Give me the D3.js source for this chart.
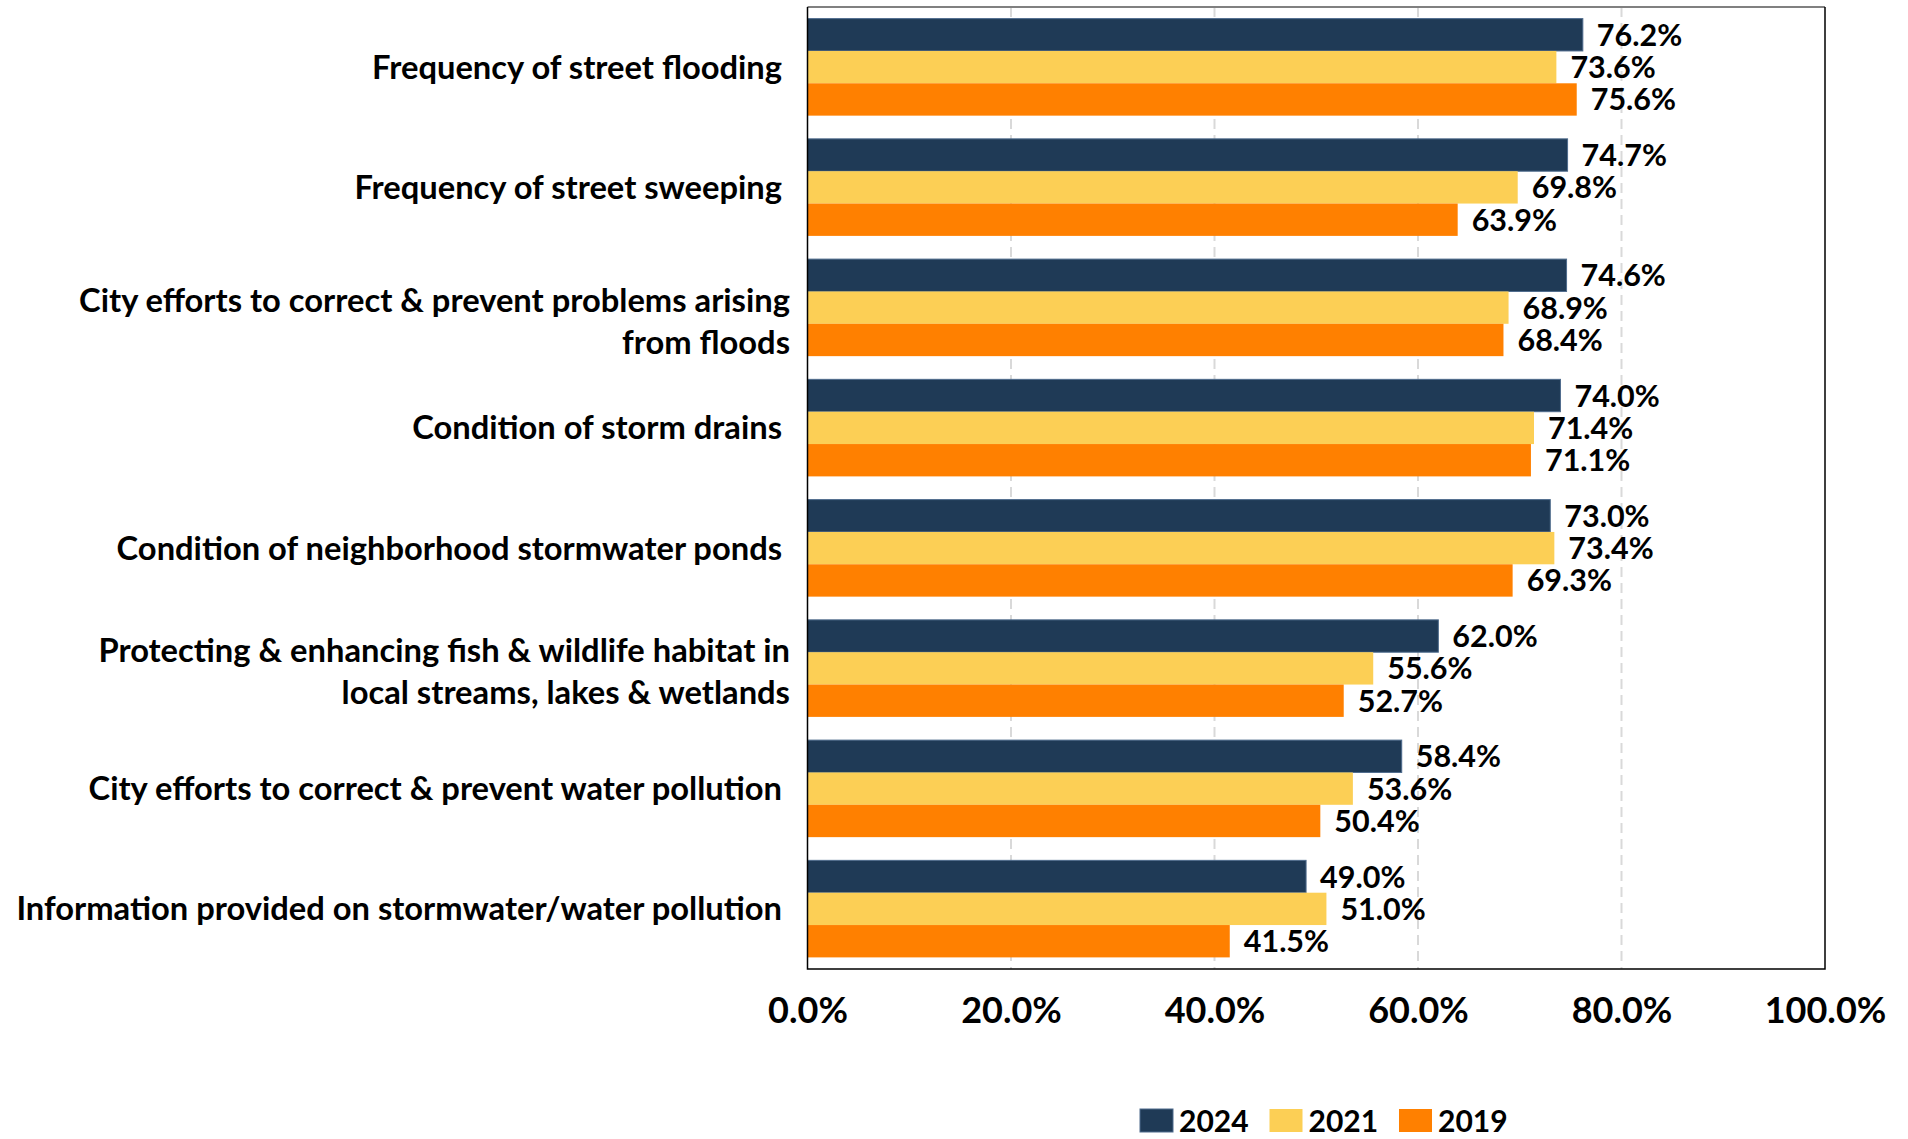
<!DOCTYPE html>
<html>
<head>
<meta charset="utf-8">
<script src="https://cdn.jsdelivr.net/npm/d3@7"></script>
<style>
  html, body { margin: 0; padding: 0; background: #fff; }
  svg { display: block; }
  text { font-family: Lato, "Open Sans", sans-serif; font-weight: 700; fill: #000; }
</style>
</head>
<body>
<svg id="chart" width="1908" height="1139"></svg>
<script>
// Survey items (line breaks mark where a label wraps)
const categories = [
  "Frequency of street flooding ",
  "Frequency of street sweeping ",
  "City efforts to correct & prevent problems arising\nfrom floods",
  "Condition of storm drains ",
  "Condition of neighborhood stormwater ponds ",
  "Protecting & enhancing fish & wildlife habitat in\nlocal streams, lakes & wetlands",
  "City efforts to correct & prevent water pollution ",
  "Information provided on stormwater/water pollution "
];

const seriesNames = ["2024", "2021", "2019"];
const seriesColors = ["#1f3a56", "#fccf55", "#ff8000"];

// Share satisfied, per year (%)
const values2024 = [76.2, 74.7, 74.6, 74.0, 73.0, 62.0, 58.4, 49.0];
const values2021 = [73.6, 69.8, 68.9, 71.4, 73.4, 55.6, 53.6, 51.0];
const values2019 = [75.6, 63.9, 68.4, 71.1, 69.3, 52.7, 50.4, 41.5];

const tickValues = [0, 20, 40, 60, 80, 100];

const allSeries = [values2024, values2021, values2019];

// Plot frame
const plot = { left: 807.5, right: 1825, top: 7, bottom: 969 };

const svg = d3.select("#chart");

const x = d3.scaleLinear().domain([0, 100]).range([plot.left, plot.right]);

const y = d3.scaleBand()
  .domain(categories)
  .range([plot.top, plot.bottom])
  .paddingInner(0.193)
  .paddingOuter(0.0965);

const ySeries = d3.scaleBand()
  .domain(seriesNames)
  .range([0, y.bandwidth()]);

// Dashed vertical gridlines
svg.append("g")
  .selectAll("line")
  .data(tickValues.slice(1, -1))
  .join("line")
  .attr("x1", d => x(d)).attr("x2", d => x(d))
  .attr("y1", plot.top).attr("y2", plot.bottom)
  .attr("stroke", "#d9d9d9")
  .attr("stroke-width", 2)
  .attr("stroke-dasharray", "10,6");

// Bars
const groups = svg.append("g")
  .selectAll("g")
  .data(categories)
  .join("g")
  .attr("transform", d => `translate(0,${y(d)})`);

groups.each(function (cat, ci) {
  const g = d3.select(this);
  seriesNames.forEach((s, si) => {
    const v = allSeries[si][ci];
    g.append("rect")
      .attr("x", x(0))
      .attr("y", ySeries(s))
      .attr("width", x(v) - x(0))
      .attr("height", ySeries.bandwidth())
      .attr("fill", seriesColors[si])
      .attr("stroke", si === 0 ? "#4e6b8c" : "none")
      .attr("stroke-width", si === 0 ? 1 : 0);
    g.append("text")
      .attr("x", x(v) + 14)
      .attr("y", ySeries(s) + ySeries.bandwidth() / 2)
      .attr("dy", "0.36em")
      .attr("font-size", 30.5)
      .text(d3.format(".1f")(v) + "%");
  });
});

// Plot border
svg.append("line")
  .attr("x1", plot.left).attr("x2", plot.right)
  .attr("y1", plot.top).attr("y2", plot.top)
  .attr("stroke", "#808080").attr("stroke-width", 2);
svg.append("path")
  .attr("d", `M${plot.left},${plot.top}V${plot.bottom}H${plot.right}V${plot.top}`)
  .attr("fill", "none")
  .attr("stroke", "#000")
  .attr("stroke-width", 1.5);

// X axis tick labels
const xAxis = d3.axisBottom(x)
  .tickValues(tickValues)
  .tickSize(0)
  .tickPadding(28)
  .tickFormat(d => d3.format(".1f")(d) + "%");

const xg = svg.append("g")
  .attr("transform", `translate(0,${plot.bottom})`)
  .call(xAxis);
xg.select(".domain").remove();
xg.selectAll("text")
  .attr("font-size", 36)
  .attr("font-family", "Lato, 'Open Sans', sans-serif")
  .attr("font-weight", 700)
  .attr("fill", "#000");

// Category labels, right-aligned against the plot
const labelRight = 790;
const lineGap = 42.5;
const labelNudge = { 2: 14, 5: 3 };

const catLabels = svg.append("g")
  .selectAll("text")
  .data(categories)
  .join("text")
  .attr("text-anchor", "end")
  .attr("font-size", 32.7)
  .style("white-space", "pre");

catLabels.each(function (cat, i) {
  const lines = cat.split("\n");
  const cy = y(cat) + y.bandwidth() / 2 + (labelNudge[i] || 0);
  const firstBaseline = cy - (lines.length - 1) * lineGap / 2 + 11.5;
  d3.select(this).selectAll("tspan")
    .data(lines)
    .join("tspan")
    .attr("x", labelRight)
    .attr("y", (d, k) => firstBaseline + k * lineGap)
    .text(d => d);
});

// Legend
const legend = svg.append("g")
  .selectAll("g")
  .data(seriesNames)
  .join("g")
  .attr("transform", (d, i) => `translate(${1140 + i * 129.5},1109)`);

legend.append("rect")
  .attr("width", 33).attr("height", 23)
  .attr("fill", (d, i) => seriesColors[i])
  .attr("stroke", (d, i) => i === 0 ? "#4e6b8c" : "none");

legend.append("text")
  .attr("x", 39)
  .attr("y", 23)
  .attr("font-size", 30)
  .text(d => d);
</script>
</body>
</html>
